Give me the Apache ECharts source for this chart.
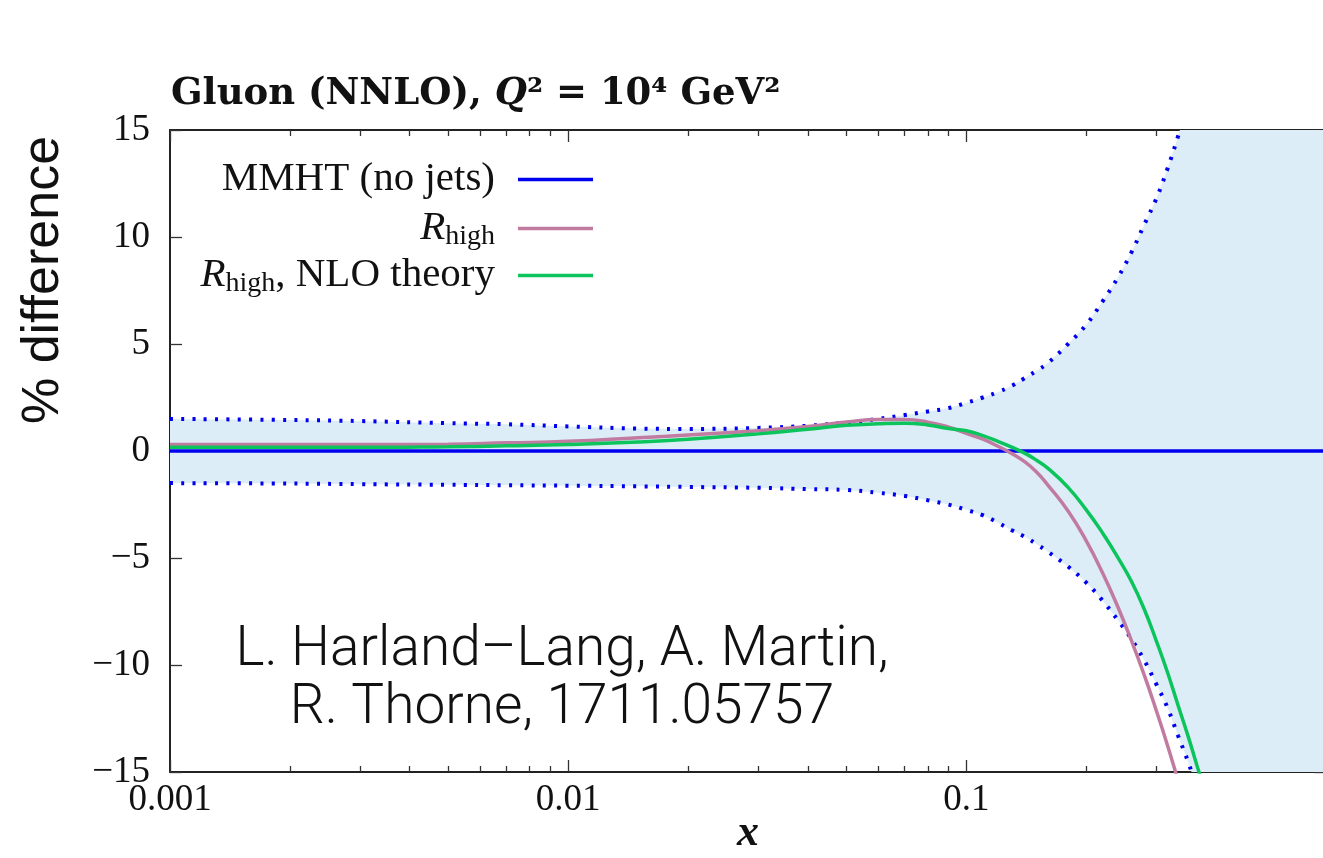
<!DOCTYPE html>
<html>
<head>
<meta charset="utf-8">
<script src="https://cdn.jsdelivr.net/npm/echarts@6/dist/echarts.min.js"></script>
<style>
html,body{margin:0;padding:0;background:#fff;}
#chart{width:1323px;height:858px;}
</style>
</head>
<body>
<div id="chart"></div>
<script>
// ---- data ----
const xs = [0.001, 0.002, 0.003, 0.005, 0.007, 0.01, 0.015, 0.02, 0.03, 0.04, 0.05, 0.06, 0.07, 0.08, 0.09, 0.1,
  0.11, 0.12, 0.13, 0.14, 0.15, 0.16, 0.18, 0.2, 0.22, 0.24, 0.26, 0.28, 0.3, 0.32, 0.34, 0.36, 0.38, 0.4,
  0.45, 0.5, 0.6, 0.7, 0.8];
const bandUpper = [1.5, 1.45, 1.4, 1.3, 1.25, 1.15, 1.05, 1.03, 1.08, 1.18, 1.33, 1.5, 1.68, 1.85, 2.0, 2.25,
  2.5, 2.75, 3.05, 3.4, 3.75, 4.1, 5.0, 5.9, 7.0, 8.1, 9.3, 10.6, 11.8, 13.2, 14.7, 16.3, 18.0, 20.0,
  25, 32, 45, 60, 75];
const bandLower = [-1.5, -1.52, -1.55, -1.58, -1.6, -1.62, -1.65, -1.68, -1.72, -1.78, -1.82, -1.95, -2.1, -2.3, -2.5, -2.75,
  -3.0, -3.35, -3.7, -4.0, -4.35, -4.7, -5.4, -6.15, -7.0, -7.9, -8.8, -9.8, -10.9, -12.0, -13.3, -14.5, -15.8, -17.0,
  -21, -26, -35, -45, -55];
const mmht = [0, 0, 0, 0, 0, 0, 0, 0, 0, 0, 0, 0, 0, 0, 0, 0,
  0, 0, 0, 0, 0, 0, 0, 0, 0, 0, 0, 0, 0, 0, 0, 0, 0, 0,
  0, 0, 0, 0, 0];
const rHigh = [0.3, 0.3, 0.3, 0.32, 0.38, 0.45, 0.62, 0.75, 0.95, 1.15, 1.35, 1.47, 1.47, 1.35, 1.12, 0.82,
  0.55, 0.22, -0.12, -0.5, -0.98, -1.58, -2.8, -4.2, -5.71, -7.28, -8.88, -10.5, -12.14, -13.76, -15.4, -17.0, null, null,
  null, null, null, null, null];
const rHighNLO = [0.17, 0.17, 0.17, 0.2, 0.24, 0.3, 0.42, 0.55, 0.8, 1.02, 1.2, 1.27, 1.3, 1.22, 1.05, 0.95,
  0.72, 0.45, 0.18, -0.1, -0.43, -0.8, -1.7, -2.75, -3.84, -4.97, -6.11, -7.42, -8.88, -10.35, -11.88, -13.3, -14.74, -16.05,
  null, null, null, null, null];
const xTickLabels = {0.001: '0.001', 0.01: '0.01', 0.1: '0.1'};
const yTicks = [-15, -10, -5, 0, 5, 10, 15];
const seriesNames = ['MMHT (no jets)', 'Rhigh', 'Rhigh, NLO theory'];

// ---- helpers ----
const zip = (a) => xs.map((x, i) => [x, a[i]]);

const BLUE = '#0000f0', PINK = '#c27ba0', GREEN = '#0cc45c', BAND = '#dcedf8';
const SERIF = '"Liberation Serif", "DejaVu Serif", serif';
const SANS = '"Liberation Sans", Arial, sans-serif';

const chart = echarts.init(document.getElementById('chart'), null, {renderer: 'canvas'});

const LFS = 41;
const legendRich = {
  it: {fontFamily: SERIF, fontStyle: 'italic', fontSize: LFS, color: '#111'},
  sub: {fontFamily: SERIF, fontSize: 28, color: '#111', padding: [16, 0, 0, 0]},
  n: {fontFamily: SERIF, fontSize: LFS, color: '#111'}
};
const legendFormatter = (name) => {
  if (name === 'Rhigh') return '{it|R}{sub|high}';
  if (name === 'Rhigh, NLO theory') return '{it|R}{sub|high}{n|, NLO theory}';
  return '{n|' + name + '}';
};
const legendRowsY = [180, 229, 276];
const legends = seriesNames.map((nm, i) => ({
  data: [nm],
  right: 730,
  top: legendRowsY[i] - 21,
  orient: 'vertical',
  align: 'right',
  icon: 'rect',
  itemWidth: 75,
  itemHeight: 3.5,
  padding: 0,
  selectedMode: false,
  formatter: legendFormatter,
  textStyle: {fontFamily: SERIF, fontSize: LFS, color: '#111', padding: [0, 18, 0, 0], rich: legendRich}
}));

const axisCommonX = {
  type: 'log', logBase: 10, min: 0.001, max: 0.8,
  axisLine: {show: true, onZero: false, lineStyle: {color: '#222', width: 2}},
  axisTick: {show: true, inside: true, length: 12, lineStyle: {color: '#333', width: 1.3}},
  minorTick: {show: true, splitNumber: 9, length: 6, lineStyle: {color: '#333', width: 1.3}},
  splitLine: {show: false}, minorSplitLine: {show: false}
};
const axisCommonY = {
  type: 'value', min: -15, max: 15, interval: 5,
  axisLine: {show: true, onZero: false, lineStyle: {color: '#222', width: 2}},
  axisTick: {show: true, inside: true, length: 12, lineStyle: {color: '#333', width: 1.3}},
  splitLine: {show: false}
};

const option = {
  animation: false,
  backgroundColor: '#fff',
  title: {
    left: 166, top: 71,
    text: '{b|Gluon (NNLO), }{q|Q}{b|² = 10⁴ GeV²}',
    textStyle: {
      rich: {
        b: {fontFamily: '"DejaVu Serif", serif', fontWeight: 'bold', fontSize: 37, color: '#111'},
        q: {fontFamily: '"DejaVu Serif", serif', fontWeight: 'bold', fontStyle: 'italic', fontSize: 37, color: '#111'}
      }
    }
  },
  legend: legends,
  grid: {left: 170, right: -3, top: 130, bottom: 86, containLabel: false, outerBoundsMode: 'none'},
  xAxis: [
    Object.assign({}, axisCommonX, {
      position: 'bottom',
      name: 'x', nameLocation: 'middle', nameGap: 40, nameMoveOverlap: false,
      nameTextStyle: {fontFamily: SERIF, fontStyle: 'italic', fontWeight: 'bold', fontSize: 44, color: '#111'},
      axisLabel: {
        show: true, margin: 10, showMaxLabel: false,
        fontFamily: SERIF, fontSize: 37, color: '#111',
        formatter: (v) => xTickLabels[v] !== undefined ? xTickLabels[v] : ''
      }
    }),
    Object.assign({}, axisCommonX, {position: 'top', axisLabel: {show: false}})
  ],
  yAxis: [
    Object.assign({}, axisCommonY, {
      position: 'left',
      axisLabel: {
        show: true, margin: 20, fontFamily: SERIF, fontSize: 37, color: '#111',
        customValues: yTicks,
        formatter: (v) => v < 0 ? '\u2212' + Math.abs(v) : String(v)
      }
    }),
    Object.assign({}, axisCommonY, {position: 'right', axisLabel: {show: false}})
  ],
  graphic: [
    {
      type: 'text', x: 44, y: 280, rotation: Math.PI / 2,
      style: {text: '% difference', font: '52px ' + SANS, fill: '#111', align: 'center', verticalAlign: 'middle'}
    },
    {
      type: 'text', x: 562, y: 680,
      style: {text: 'L. Harland\u2013Lang, A. Martin,\nR. Thorne, 1711.05757', font: '300 55px Roboto, ' + SANS,
        fill: '#111', align: 'center', verticalAlign: 'middle', lineHeight: 58}
    }
  ],
  series: [
    {
      name: 'band', type: 'custom', data: [0], clip: true, silent: true, z: 1,
      xAxisIndex: 0, yAxisIndex: 0,
      renderItem: function (params, api) {
        const up = xs.map((x, i) => api.coord([x, bandUpper[i]]));
        const lo = xs.map((x, i) => api.coord([x, bandLower[i]])).reverse();
        return {type: 'polygon', shape: {points: up.concat(lo)}, style: {fill: BAND, stroke: null}};
      }
    },
    {
      name: 'bandUpperLine', type: 'line', data: zip(bandUpper), symbol: 'none', smooth: 0.4, z: 2,
      lineStyle: {color: BLUE, width: 4, type: [3, 8.3], cap: 'butt'}
    },
    {
      name: 'bandLowerLine', type: 'line', data: zip(bandLower), symbol: 'none', smooth: 0.4, z: 2,
      lineStyle: {color: BLUE, width: 4, type: [3, 8.3], cap: 'butt'}
    },
    {
      name: 'MMHT (no jets)', type: 'line', data: zip(mmht), symbol: 'none', color: BLUE, z: 3,
      lineStyle: {color: BLUE, width: 3.5}
    },
    {
      name: 'Rhigh', type: 'line', data: zip(rHigh), symbol: 'none', smooth: 0.5, color: PINK, z: 4,
      lineStyle: {color: PINK, width: 3.5}
    },
    {
      name: 'Rhigh, NLO theory', type: 'line', data: zip(rHighNLO), symbol: 'none', smooth: 0.5, color: GREEN, z: 5,
      lineStyle: {color: GREEN, width: 3.5}
    }
  ]
};
chart.setOption(option);
</script>
</body>
</html>
